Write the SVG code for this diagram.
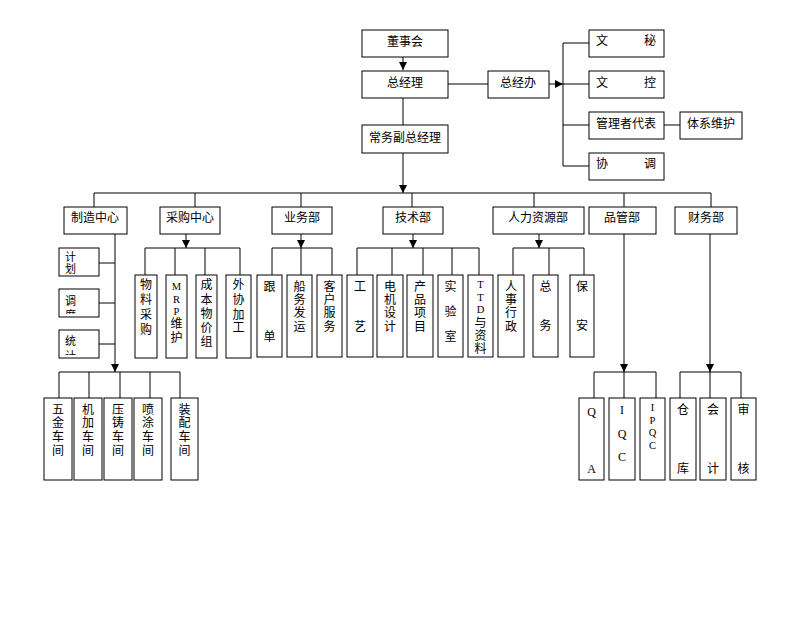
<svg xmlns="http://www.w3.org/2000/svg" width="800" height="619" viewBox="0 0 800 619">
<style>
.b{fill:#fff;stroke:#000;stroke-width:1}
.l{stroke:#000;stroke-width:1;fill:none}
.a{stroke:#000;stroke-width:1;fill:none;marker-end:url(#ar)}
text{font-family:"Liberation Serif","Noto Sans CJK SC",serif;font-size:12px;fill:#000;text-anchor:middle}
.s{text-anchor:start;font-size:11px}
.e{font-size:10.5px}
</style>
<defs>
<marker id="ar" viewBox="0 0 8 8" refX="8" refY="4" markerWidth="8" markerHeight="8" markerUnits="userSpaceOnUse" orient="auto">
<path d="M0,0 L8,4 L0,8 Z" fill="#000"/>
</marker>
<clipPath id="c1"><rect x="59" y="248" width="40" height="28"/></clipPath>
<clipPath id="c2"><rect x="59" y="289" width="40" height="25"/></clipPath>
<clipPath id="c3"><rect x="59" y="330" width="40" height="25"/></clipPath>
</defs>
<rect width="800" height="619" fill="#fff"/>

<g id="connectors">
<line class="a" x1="403" y1="57" x2="403" y2="70"/>
<line class="l" x1="403" y1="98" x2="403" y2="125"/>
<line class="a" x1="403" y1="153" x2="403" y2="193"/>
<line class="l" x1="448" y1="84" x2="488" y2="84"/>
<line class="a" x1="549" y1="84" x2="563" y2="84"/>
<path class="l" d="M589,43 H563 V166 H589 M563,84 H589 M563,125 H589"/>
<line class="l" x1="664" y1="125" x2="680" y2="125"/>
<path class="l" d="M94,207 V193 H711 V207 M195,193 V207 M301,193 V207 M412,193 V207 M534,193 V207 M624,193 V207"/>
<line class="a" x1="186" y1="234" x2="186" y2="248"/>
<path class="l" d="M145,275 V248 H240 V275 M175,248 V275 M205,248 V275"/>
<line class="a" x1="301" y1="234" x2="301" y2="248"/>
<path class="l" d="M272,275 V248 H332 V275 M301,248 V275"/>
<line class="a" x1="413" y1="234" x2="413" y2="248"/>
<path class="l" d="M357,275 V248 H479 V275 M392,248 V275 M423,248 V275 M452,248 V275"/>
<line class="a" x1="539" y1="234" x2="539" y2="248"/>
<path class="l" d="M513,275 V248 H584 V275 M549,248 V275"/>
<line class="a" x1="115" y1="234" x2="115" y2="372"/>
<path class="l" d="M99,263 H115 M99,303 H115 M99,344 H115"/>
<path class="l" d="M59,398 V372 H180 V398 M89,372 V398 M120,372 V398 M150,372 V398"/>
<line class="a" x1="624" y1="234" x2="624" y2="372"/>
<path class="l" d="M594,398 V372 H656 V398 M624,372 V398"/>
<line class="a" x1="710" y1="234" x2="710" y2="372"/>
<path class="l" d="M680,398 V372 H741 V398 M710,372 V398"/>
</g>

<g id="n-dongshihui"><rect class="b" x="362" y="30" width="86" height="27"/><text x="405" y="46">董事会</text></g>
<g id="n-zongjingli"><rect class="b" x="362" y="71" width="86" height="27"/><text x="405" y="87">总经理</text></g>
<g id="n-changwu"><rect class="b" x="362" y="125" width="86" height="28"/><text x="405" y="142">常务副总经理</text></g>
<g id="n-zongjingban"><rect class="b" x="488" y="71" width="61" height="27"/><text x="518" y="87">总经办</text></g>
<g id="n-wenmi"><rect class="b" x="589" y="30" width="75" height="27"/><text x="602" y="45">文</text><text x="650" y="45">秘</text></g>
<g id="n-wenkong"><rect class="b" x="589" y="71" width="75" height="27"/><text x="602" y="87">文</text><text x="650" y="87">控</text></g>
<g id="n-guanli"><rect class="b" x="589" y="112" width="75" height="27"/><text x="626" y="128">管理者代表</text></g>
<g id="n-xietiao"><rect class="b" x="589" y="153" width="75" height="27"/><text x="602" y="168">协</text><text x="650" y="168">调</text></g>
<g id="n-tixi"><rect class="b" x="680" y="112" width="62" height="27"/><text x="711" y="128">体系维护</text></g>

<g id="n-zhizao"><rect class="b" x="64" y="207" width="63" height="27"/><text x="95" y="222">制造中心</text></g>
<g id="n-caigou"><rect class="b" x="160" y="207" width="60" height="27"/><text x="190" y="222">采购中心</text></g>
<g id="n-yewu"><rect class="b" x="272" y="207" width="60" height="27"/><text x="302" y="222">业务部</text></g>
<g id="n-jishu"><rect class="b" x="383" y="207" width="60" height="27"/><text x="413" y="222">技术部</text></g>
<g id="n-renli"><rect class="b" x="493" y="207" width="91" height="27"/><text x="538" y="222">人力资源部</text></g>
<g id="n-pinguan"><rect class="b" x="589" y="207" width="67" height="27"/><text x="622" y="222">品管部</text></g>
<g id="n-caiwu"><rect class="b" x="675" y="207" width="62" height="27"/><text x="706" y="222">财务部</text></g>

<g id="n-jihua"><rect class="b" x="59" y="248" width="40" height="28"/><g clip-path="url(#c1)"><text class="s" x="65" y="261">计</text><text class="s" x="65" y="273">划</text></g></g>
<g id="n-diaodu"><rect class="b" x="59" y="289" width="40" height="28"/><g clip-path="url(#c2)"><text class="s" x="65" y="305">调</text><text class="s" x="65" y="319">度</text></g></g>
<g id="n-tongji"><rect class="b" x="59" y="330" width="40" height="28"/><g clip-path="url(#c3)"><text class="s" x="65" y="345">统</text><text class="s" x="65" y="360">计</text></g></g>

<g id="n-wuliao"><rect class="b" x="135" y="275" width="22" height="83"/><text x="146"><tspan x="146" y="289">物</tspan><tspan x="146" y="304">料</tspan><tspan x="146" y="319">采</tspan><tspan x="146" y="334">购</tspan></text></g>
<g id="n-mrp"><rect class="b" x="166" y="275" width="21" height="83"/><text x="176.5"><tspan class="e" x="176.5" y="290">M</tspan><tspan class="e" x="176.5" y="302.5">R</tspan><tspan class="e" x="176.5" y="315">P</tspan><tspan x="176.5" y="328">维</tspan><tspan x="176.5" y="342">护</tspan></text></g>
<g id="n-chengben"><rect class="b" x="196" y="275" width="21" height="83"/><text x="206.5"><tspan x="206.5" y="289">成</tspan><tspan x="206.5" y="304">本</tspan><tspan x="206.5" y="318">物</tspan><tspan x="206.5" y="332">价</tspan><tspan x="206.5" y="346">组</tspan></text></g>
<g id="n-waixie"><rect class="b" x="226" y="275" width="25" height="83"/><text x="238.5"><tspan x="238.5" y="289">外</tspan><tspan x="238.5" y="304">协</tspan><tspan x="238.5" y="319">加</tspan><tspan x="238.5" y="332">工</tspan></text></g>

<g id="n-gendan"><rect class="b" x="257" y="275" width="25" height="82"/><text x="269.5"><tspan x="269.5" y="291">跟</tspan><tspan x="269.5" y="341">单</tspan></text></g>
<g id="n-chuanwu"><rect class="b" x="287" y="275" width="25" height="82"/><text x="299.5"><tspan x="299.5" y="291">船</tspan><tspan x="299.5" y="304">务</tspan><tspan x="299.5" y="317">发</tspan><tspan x="299.5" y="331">运</tspan></text></g>
<g id="n-kehu"><rect class="b" x="317" y="275" width="25" height="82"/><text x="329.5"><tspan x="329.5" y="291">客</tspan><tspan x="329.5" y="304">户</tspan><tspan x="329.5" y="317">服</tspan><tspan x="329.5" y="331">务</tspan></text></g>

<g id="n-gongyi"><rect class="b" x="347" y="275" width="26" height="82"/><text x="360"><tspan x="360" y="291">工</tspan><tspan x="360" y="331">艺</tspan></text></g>
<g id="n-dianji"><rect class="b" x="377" y="275" width="26" height="82"/><text x="390"><tspan x="390" y="291">电</tspan><tspan x="390" y="304">机</tspan><tspan x="390" y="317">设</tspan><tspan x="390" y="331">计</tspan></text></g>
<g id="n-chanpin"><rect class="b" x="407" y="275" width="26" height="82"/><text x="420"><tspan x="420" y="291">产</tspan><tspan x="420" y="304">品</tspan><tspan x="420" y="317">项</tspan><tspan x="420" y="331">目</tspan></text></g>
<g id="n-shiyan"><rect class="b" x="438" y="275" width="25" height="82"/><text x="450.5"><tspan x="450.5" y="291">实</tspan><tspan x="450.5" y="316">验</tspan><tspan x="450.5" y="341">室</tspan></text></g>
<g id="n-ttd"><rect class="b" x="468" y="275" width="25" height="82"/><text x="480.5"><tspan class="e" x="480.5" y="288">T</tspan><tspan class="e" x="480.5" y="300.5">T</tspan><tspan class="e" x="480.5" y="313">D</tspan><tspan x="480.5" y="327">与</tspan><tspan x="480.5" y="340">资</tspan><tspan x="480.5" y="353">料</tspan></text></g>

<g id="n-renshi"><rect class="b" x="498" y="275" width="26" height="82"/><text x="511"><tspan x="511" y="291">人</tspan><tspan x="511" y="304">事</tspan><tspan x="511" y="317">行</tspan><tspan x="511" y="331">政</tspan></text></g>
<g id="n-zongwu"><rect class="b" x="533" y="275" width="25" height="82"/><text x="545.5"><tspan x="545.5" y="291">总</tspan><tspan x="545.5" y="330">务</tspan></text></g>
<g id="n-baoan"><rect class="b" x="570" y="275" width="24" height="82"/><text x="582"><tspan x="582" y="291">保</tspan><tspan x="582" y="330">安</tspan></text></g>

<g id="n-wujin"><rect class="b" x="44" y="398" width="28" height="82"/><text x="58"><tspan x="58" y="414">五</tspan><tspan x="58" y="427">金</tspan><tspan x="58" y="441">车</tspan><tspan x="58" y="455">间</tspan></text></g>
<g id="n-jijia"><rect class="b" x="74" y="398" width="28" height="82"/><text x="88"><tspan x="88" y="414">机</tspan><tspan x="88" y="427">加</tspan><tspan x="88" y="441">车</tspan><tspan x="88" y="455">间</tspan></text></g>
<g id="n-yazhu"><rect class="b" x="104" y="398" width="28" height="82"/><text x="118"><tspan x="118" y="414">压</tspan><tspan x="118" y="427">铸</tspan><tspan x="118" y="441">车</tspan><tspan x="118" y="455">间</tspan></text></g>
<g id="n-pentu"><rect class="b" x="134" y="398" width="28" height="82"/><text x="148"><tspan x="148" y="414">喷</tspan><tspan x="148" y="427">涂</tspan><tspan x="148" y="441">车</tspan><tspan x="148" y="455">间</tspan></text></g>
<g id="n-zhuangpei"><rect class="b" x="171" y="398" width="27" height="82"/><text x="184.5"><tspan x="184.5" y="414">装</tspan><tspan x="184.5" y="427">配</tspan><tspan x="184.5" y="441">车</tspan><tspan x="184.5" y="455">间</tspan></text></g>

<g id="n-qa"><rect class="b" x="579" y="398" width="25" height="82"/><text x="591.5"><tspan x="591.5" y="416">Q</tspan><tspan x="591.5" y="473">A</tspan></text></g>
<g id="n-iqc"><rect class="b" x="609" y="398" width="26" height="82"/><text x="622"><tspan x="622" y="414">I</tspan><tspan x="622" y="438">Q</tspan><tspan x="622" y="461">C</tspan></text></g>
<g id="n-ipqc"><rect class="b" x="640" y="398" width="25" height="82"/><text x="652.5"><tspan class="e" x="652.5" y="411">I</tspan><tspan class="e" x="652.5" y="423.5">P</tspan><tspan class="e" x="652.5" y="436">Q</tspan><tspan class="e" x="652.5" y="448.5">C</tspan></text></g>
<g id="n-cangku"><rect class="b" x="670" y="398" width="26" height="82"/><text x="683"><tspan x="683" y="414">仓</tspan><tspan x="683" y="473">库</tspan></text></g>
<g id="n-kuaiji"><rect class="b" x="700" y="398" width="26" height="82"/><text x="713"><tspan x="713" y="414">会</tspan><tspan x="713" y="473">计</tspan></text></g>
<g id="n-shenhe"><rect class="b" x="731" y="398" width="25" height="82"/><text x="743.5"><tspan x="743.5" y="414">审</tspan><tspan x="743.5" y="473">核</tspan></text></g>
</svg>
